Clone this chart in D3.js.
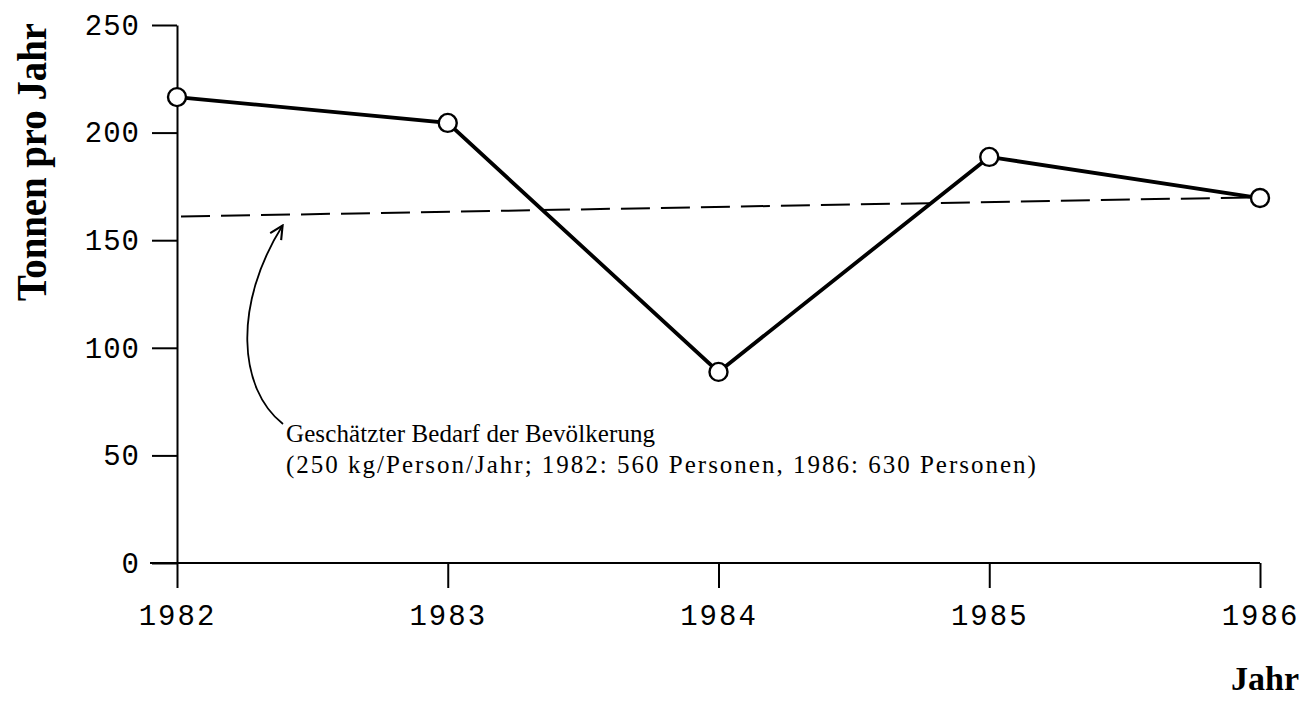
<!DOCTYPE html>
<html>
<head>
<meta charset="utf-8">
<script src="https://cdn.jsdelivr.net/npm/d3@7"></script>
<style>
  body { margin: 0; background: #fff; }
  .tick text { font-family: "Liberation Mono", "DejaVu Sans Mono", monospace; font-size: 29px; letter-spacing: 2px; fill: #000; }
  .domain, .tick line { stroke: #000; stroke-width: 2; }
</style>
</head>
<body>
<div id="chart"></div>
<script>
// data
var years = [1982, 1983, 1984, 1985, 1986];
var tonnes = [216.5, 204.5, 88.8, 188.7, 169.6];
var demandYears = [1982, 1986];
var demand = [161, 170];
var yTicks = [0, 50, 100, 150, 200, 250];
var noteLines = ["Geschätzter Bedarf der Bevölkerung",
                 "(250 kg/Person/Jahr; 1982: 560 Personen, 1986: 630 Personen)"];

var margin = {top: 25, right: 49, bottom: 143, left: 177},
    width = 1309 - margin.left - margin.right,
    height = 706 - margin.top - margin.bottom;

var x = d3.scaleLinear().domain([1982, 1986]).range([0, width]);
var y = d3.scaleLinear().domain([0, 250]).range([height, 0]);

var svg = d3.select("#chart").append("svg")
    .attr("width", width + margin.left + margin.right)
    .attr("height", height + margin.top + margin.bottom)
  .append("g")
    .attr("transform", "translate(" + margin.left + "," + margin.top + ")");

// x axis
var xAxis = svg.append("g")
    .attr("transform", "translate(0," + height + ")")
    .call(d3.axisBottom(x).tickValues(years).tickFormat(d3.format("d"))
      .tickSize(25).tickSizeOuter(0).tickPadding(16));
xAxis.select(".domain").attr("d", "M-27,0H" + width);

// y axis
var yAxis = svg.append("g")
    .call(d3.axisLeft(y).tickValues(yTicks).tickSize(25).tickSizeOuter(0).tickPadding(12));
yAxis.selectAll(".tick text").style("letter-spacing", "1px");

// demand line (dashed)
var demandData = demandYears.map(function(d, i) { return {year: d, value: demand[i]}; });
svg.append("path")
    .datum(demandData)
    .attr("fill", "none")
    .attr("stroke", "#000")
    .attr("stroke-width", 2)
    .attr("stroke-dasharray", "29,11")
    .attr("d", d3.line()
      .x(function(d) { return x(d.year) + 4; })
      .y(function(d) { return y(d.value); }));

// main series
var data = years.map(function(d, i) { return {year: d, value: tonnes[i]}; });
svg.append("path")
    .datum(data)
    .attr("fill", "none")
    .attr("stroke", "#000")
    .attr("stroke-width", 3.8)
    .attr("d", d3.line()
      .x(function(d) { return x(d.year); })
      .y(function(d) { return y(d.value); }));

svg.selectAll(".pt")
    .data(data)
  .enter().append("circle")
    .attr("class", "pt")
    .attr("cx", function(d) { return x(d.year); })
    .attr("cy", function(d) { return y(d.value); })
    .attr("r", 9)
    .attr("fill", "#fff")
    .attr("stroke", "#000")
    .attr("stroke-width", 2.4);

// annotation arrow, pointing at the demand line
var tipX = x(1982.39), tipY = y(160.5) + 8;
var defs = svg.append("defs");
defs.append("marker")
    .attr("id", "arrow")
    .attr("viewBox", "0 0 10 10")
    .attr("refX", 9).attr("refY", 5)
    .attr("markerWidth", 9).attr("markerHeight", 9)
    .attr("orient", "auto")
  .append("path")
    .attr("d", "M1,1L9,5L1,9")
    .attr("fill", "none")
    .attr("stroke", "#000")
    .attr("stroke-width", 1.3);

var startX = 283 - margin.left, startY = 424 - margin.top;
svg.append("path")
    .attr("fill", "none")
    .attr("stroke", "#000")
    .attr("stroke-width", 1.8)
    .attr("marker-end", "url(#arrow)")
    .attr("d", "M" + startX + "," + startY +
      "C" + (startX - 45) + "," + (startY - 35) + " " + (startX - 50) + "," + (startY - 120) + " " + tipX + "," + tipY);

var note = svg.append("text")
    .attr("font-family", "Liberation Serif, Times New Roman, serif")
    .attr("font-size", 25)
    .attr("fill", "#000");
note.selectAll("tspan")
    .data(noteLines)
  .enter().append("tspan")
    .attr("x", 286 - margin.left)
    .attr("y", function(d, i) { return 442 - margin.top + i * 31; })
    .style("letter-spacing", function(d, i) { return i ? "2px" : "0.1px"; })
    .text(function(d) { return d; });

// axis titles
svg.append("text")
    .attr("transform", "translate(" + (46 - margin.left) + "," + (162 - margin.top) + ") rotate(-90)")
    .attr("text-anchor", "middle")
    .attr("font-family", "Liberation Serif, Times New Roman, serif")
    .attr("font-weight", "bold")
    .attr("font-size", 42)
    .attr("textLength", 278)
    .attr("lengthAdjust", "spacingAndGlyphs")
    .text("Tonnen pro Jahr");

svg.append("text")
    .attr("x", 1299 - margin.left)
    .attr("y", 690 - margin.top)
    .attr("text-anchor", "end")
    .attr("font-family", "Liberation Serif, Times New Roman, serif")
    .attr("font-weight", "bold")
    .attr("font-size", 34)
    .text("Jahr");
</script>
</body>
</html>
